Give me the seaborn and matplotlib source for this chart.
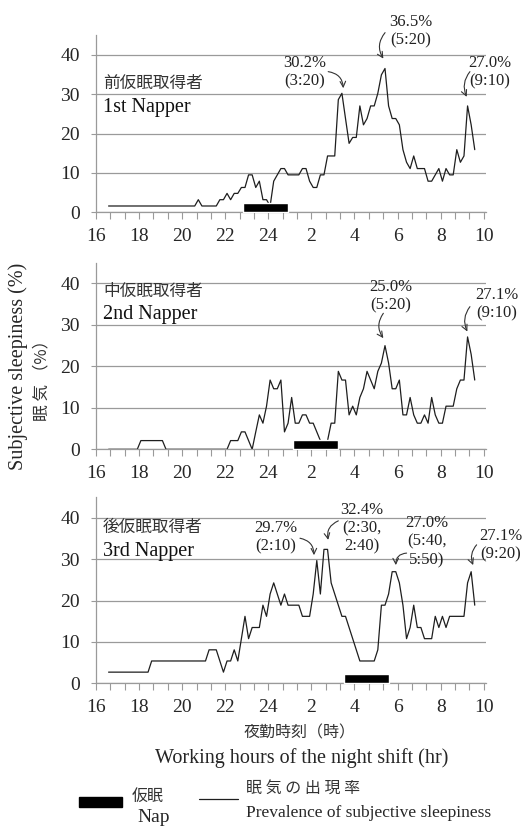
import numpy as np
import pandas as pd
import matplotlib.pyplot as plt
import seaborn as sns
from matplotlib.patches import Rectangle
from matplotlib.lines import Line2D

# Prevalence of subjective sleepiness (%), one reading every 10 min, 16:30 -> 9:30
# rows = clock hours (16h row starts at 16:30, 9h row ends at 9:30)
first_napper = [
    1.6, 1.6, 1.6,                      # 16
    1.6, 1.6, 1.6, 1.6, 1.6, 1.6,       # 17
    1.6, 1.6, 1.6, 1.6, 1.6, 1.6,       # 18
    1.6, 1.6, 1.6, 1.6, 1.6, 1.6,       # 19
    1.6, 1.6, 1.6, 1.6, 3.2, 1.6,       # 20
    1.6, 1.6, 1.6, 1.6, 3.2, 3.2,       # 21
    4.8, 3.2, 4.8, 4.8, 6.3, 6.3,       # 22
    9.5, 9.5, 6.3, 7.9, 3.2, 3.2,       # 23
    1.6, 7.9, 9.5, 11.1, 11.1, 9.5,     # 0
    9.5, 9.5, 9.5, 11.1, 11.1, 7.9,     # 1
    6.3, 6.3, 9.5, 9.5, 14.3, 14.3,     # 2
    14.3, 28.6, 30.2, 23.8, 17.5, 19.0, # 3
    19.0, 27.0, 22.2, 23.8, 27.0, 27.0, # 4
    30.2, 34.9, 36.5, 27.0, 23.8, 23.8, # 5
    22.2, 15.9, 12.7, 11.1, 14.3, 11.1, # 6
    11.1, 11.1, 7.9, 7.9, 9.5, 11.1,    # 7
    7.9, 11.1, 9.5, 9.5, 15.9, 12.7,    # 8
    14.3, 27.0, 22.2, 15.9,             # 9
]
second_napper = [
    0, 0, 0,
    0, 0, 0, 0, 0, 0,
    2.1, 2.1, 2.1, 2.1, 2.1, 2.1,
    2.1, 0, 0, 0, 0, 0,
    0, 0, 0, 0, 0, 0,
    0, 0, 0, 0, 0, 0,
    0, 2.1, 2.1, 2.1, 4.2, 4.2,
    2.1, 0, 4.2, 8.3, 6.3, 10.4,
    16.7, 14.6, 14.6, 16.7, 4.2, 6.3,
    12.5, 6.3, 6.3, 8.3, 8.3, 6.3,
    6.3, 4.2, 2.1, 0, 2.1, 6.3,
    6.3, 18.8, 16.7, 16.7, 8.3, 10.4,
    8.3, 12.5, 14.6, 18.8, 16.7, 14.6,
    18.8, 20.8, 25.0, 20.8, 14.6, 14.6,
    16.7, 8.3, 8.3, 12.5, 8.3, 6.3,
    6.3, 8.3, 6.3, 12.5, 8.3, 6.3,
    6.3, 10.4, 10.4, 10.4, 14.6, 16.7,
    16.7, 27.1, 22.9, 16.7,
]
third_napper = [
    2.7, 2.7, 2.7,
    2.7, 2.7, 2.7, 2.7, 2.7, 2.7,
    2.7, 2.7, 2.7, 5.4, 5.4, 5.4,
    5.4, 5.4, 5.4, 5.4, 5.4, 5.4,
    5.4, 5.4, 5.4, 5.4, 5.4, 5.4,
    5.4, 8.1, 8.1, 8.1, 5.4, 2.7,
    5.4, 5.4, 8.1, 5.4, 10.8, 16.2,
    10.8, 13.5, 13.5, 13.5, 18.9, 16.2,
    21.6, 24.3, 21.6, 18.9, 21.6, 18.9,
    18.9, 18.9, 18.9, 16.2, 16.2, 16.2,
    21.6, 29.7, 21.6, 32.4, 32.4, 24.3,
    21.6, 18.9, 16.2, 16.2, 13.5, 10.8,
    8.1, 5.4, 5.4, 5.4, 5.4, 5.4,
    8.1, 18.9, 18.9, 21.6, 27.0, 27.0,
    24.3, 18.9, 10.8, 13.5, 18.9, 13.5,
    13.5, 10.8, 10.8, 10.8, 16.2, 13.5,
    16.2, 13.5, 16.2, 16.2, 16.2, 16.2,
    16.2, 24.3, 27.0, 18.9,
]

# nap periods (clock time, as drawn)
nap_first = ("22:50", "0:55")
nap_second = ("1:10", "3:15")
nap_third = ("3:30", "5:35")

tick_labels = ["16", "18", "20", "22", "24", "2", "4", "6", "8", "10"]

SERIF = "Liberation Serif"
JP = ["Noto Sans CJK JP", "DejaVu Sans"]


def clock_to_h(s):
    hh, mm = s.split(":")
    h = int(hh) + int(mm) / 60
    if h < 16:
        h += 24
    return h - 16


sns.set_style("white")
plt.rcParams["font.family"] = [SERIF, "Noto Sans CJK JP"]

fig = plt.figure(figsize=(5.28, 8.26), dpi=100)
W, H = 528, 826

# axes boxes in pixels: (left, top, right, bottom)
boxes = [(96, 35, 486, 212.3), (96, 262.7, 486, 449.3), (96, 497.3, 486, 683.3)]

panels = [
    (first_napper, nap_first, "前仮眠取得者", "1st Napper", (32.7, 26.6), [
        ("30.2%\n(3:20)", (9.7, 35.5), (10.78, 35.7), (11.48, 31.5), -0.4),
        ("36.5%\n(5:20)", (14.6, 46.0), (13.42, 45.6), (13.34, 39.0), 0.35),
        ("27.0%\n(9:10)", (18.3, 35.5), (17.36, 35.7), (17.21, 29.3), 0.3),
    ]),
    (second_napper, nap_second, "中仮眠取得者", "2nd Napper", (38.0, 32.4), [
        ("25.0%\n(5:20)", (13.69, 37.0), (13.34, 32.8), (13.34, 26.8), 0.35),
        ("27.1%\n(9:10)", (18.6, 35.0), (17.36, 34.4), (17.24, 28.4), 0.3),
    ]),
    (third_napper, nap_third, "後仮眠取得者", "3rd Napper", (37.6, 31.8), [
        ("29.7%\n(2:10)", (8.33, 35.3), (9.47, 35.1), (10.12, 31.0), -0.4),
        ("32.4%\n(2:30,\n2:40)", (12.36, 37.5), (11.25, 39.3), (10.78, 34.7), 0.4),
        ("27.0%\n(5:40,\n5:50)", (15.35, 34.3), (14.42, 31.5), (13.92, 28.6), 0.47),
        ("27.1%\n(9:20)", (18.8, 33.3), (17.67, 33.5), (17.51, 28.6), 0.3),
    ]),
]

grid_c = "#9a9a9a"

for (vals, nap, jp, en, label_y, notes), (l, t, r, b) in zip(panels, boxes):
    ax = fig.add_axes([l / W, 1 - b / H, (r - l) / W, (b - t) / H])
    hours = 0.5 + np.arange(len(vals)) / 6
    df = pd.DataFrame({"h": hours + 1 / 12, "pct": vals})
    sns.lineplot(data=df, x="h", y="pct", ax=ax, color="#1e1e1e", linewidth=0.9)

    n0, n1 = clock_to_h(nap[0]), clock_to_h(nap[1])
    ax.broken_barh([(n0, n1 - n0)], (0, 2.3), facecolors="black", zorder=4)

    ax.set_xlim(0, (r - l) / 21.54)
    ax.set_ylim(0, 45)
    ax.set_xticks(np.arange(0, 18.01, 2))
    ax.set_xticklabels(tick_labels)
    ax.set_xticks(np.arange(0, 18.01, 2 / 3), minor=True)
    ax.set_yticks([0, 10, 20, 30, 40])
    ax.set_xlabel("")
    ax.set_ylabel("")
    ax.yaxis.grid(True, color=grid_c, linewidth=0.9)
    ax.set_axisbelow(True)
    for side in ["top", "right"]:
        ax.spines[side].set_visible(False)
    for side in ["left", "bottom"]:
        ax.spines[side].set_color(grid_c)
        ax.spines[side].set_linewidth(0.9)
    ax.tick_params(axis="x", which="both", direction="out", length=5,
                   width=0.8, color=grid_c, bottom=True)
    ax.tick_params(axis="x", which="major", labelsize=14, pad=6)
    ax.tick_params(axis="y", direction="out", length=3.5, width=0.8,
                   color=grid_c, labelsize=14, pad=8, left=True)

    ax.text(0.33, label_y[0], jp, family=JP, fontsize=12, color="#333333",
            va="center", ha="left")
    ax.text(0.33, label_y[1], en, fontsize=14.5, color="#111111",
            va="center", ha="left")

    for txt, pos, tail, tip, rad in notes:
        ax.text(pos[0], pos[1], txt, fontsize=12, color="#222222",
                ha="center", va="center", linespacing=1.2)
        ax.annotate("", xy=tip, xytext=tail, annotation_clip=False,
                    arrowprops=dict(arrowstyle="->", color="#333333", lw=0.8,
                                    shrinkA=0, shrinkB=0,
                                    connectionstyle=f"arc3,rad={rad}"))

# axis titles
fig.text(18 / W, 1 - 366 / H, "Subjective sleepiness (%)", rotation=90,
         ha="center", va="center", fontsize=14.5)
fig.text(42 / W, 1 - 376 / H, "眠 気 （%）", rotation=90, family=JP,
         ha="center", va="center", fontsize=12, color="#333333")
fig.text(300 / W, 1 - 733 / H, "夜勤時刻（時）", family=JP,
         ha="center", va="center", fontsize=11.5, color="#333333")
fig.text(302 / W, 1 - 758 / H, "Working hours of the night shift (hr)",
         ha="center", va="center", fontsize=14.5)

# legend
fig.add_artist(Rectangle((79 / W, 1 - 807 / H), 43 / W, 10 / H,
                         transform=fig.transFigure, color="black"))
fig.text(132 / W, 1 - 796 / H, "仮眠", family=JP, fontsize=11.5,
         color="#333333", va="center", ha="left")
fig.text(137 / W, 1 - 817 / H, "Nap", fontsize=14, va="center", ha="left")
fig.add_artist(Line2D([199 / W, 238 / W], [1 - 799 / H, 1 - 799 / H],
                      transform=fig.transFigure, color="#1e1e1e", lw=0.9))
fig.text(246 / W, 1 - 788 / H, "眠 気 の 出 現 率", family=JP, fontsize=11.5,
         color="#333333", va="center", ha="left")
fig.text(246 / W, 1 - 813 / H, "Prevalence of subjective sleepiness",
         fontsize=12.5, va="center", ha="left")

fig.savefig("out.png", dpi=100)
